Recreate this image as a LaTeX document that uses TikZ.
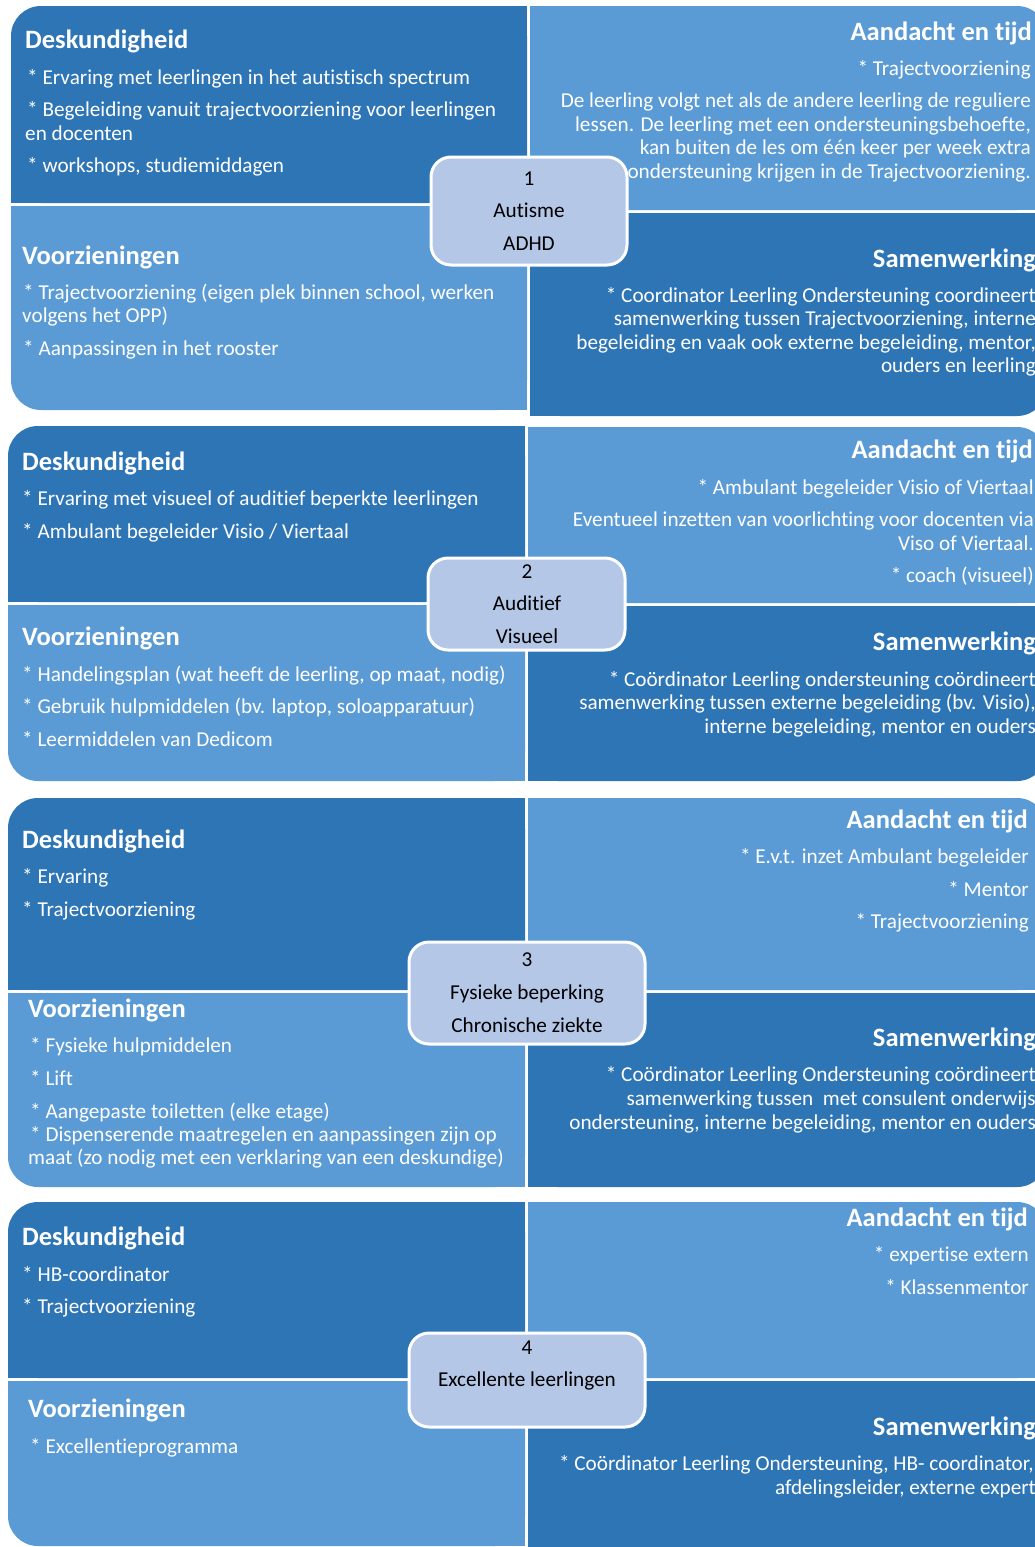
\documentclass[tikz,border=0pt]{standalone}
\usepackage{fontspec}
\setmainfont{Carlito}[Ligatures=NoCommon]
\definecolor{dk}{HTML}{2E75B6}
\definecolor{lt}{HTML}{5B9BD5}
\definecolor{cb}{HTML}{B4C7E7}
\tikzset{
  hd/.style={text=white,font=\fontsize{26.5}{31}\selectfont\bfseries,inner sep=0pt},
  hdL/.style={hd,anchor=base west},
  hdR/.style={hd,anchor=base east},
  bd/.style={text=white,font=\fontsize{21.2}{25}\selectfont,inner sep=0pt},
  bdL/.style={bd,anchor=base west},
  bdR/.style={bd,anchor=base east},
  ctr/.style={text=black,font=\fontsize{21.2}{25}\selectfont,inner sep=0pt,anchor=base},
  cbox/.style={fill=cb,draw=white,line width=3pt,rounded corners=20pt,inner sep=0pt},
}
% quadrant with one rounded corner
\newcommand\qrTL[5]{\fill[#1,rounded corners=30pt] (#2,#3) rectangle (#4,#5);
  \fill[#1] (#2+30,#3) rectangle (#4,#5); \fill[#1] (#2,#3+30) rectangle (#4,#5);}
\newcommand\qrBL[5]{\fill[#1,rounded corners=30pt] (#2,#3) rectangle (#4,#5);
  \fill[#1] (#2+30,#3) rectangle (#4,#5); \fill[#1] (#2,#3) rectangle (#4,#5-30);}
\newcommand\qrTR[5]{\fill[#1,rounded corners=30pt] (#2,#3) rectangle (#4,#5);
  \fill[#1] (#2,#3) rectangle (#4-30,#5); \fill[#1] (#2,#3+30) rectangle (#4,#5);}
\newcommand\qrBR[5]{\fill[#1,rounded corners=30pt] (#2,#3) rectangle (#4,#5);
  \fill[#1] (#2,#3) rectangle (#4-30,#5); \fill[#1] (#2,#3) rectangle (#4,#5-30);}
\begin{document}
\begin{tikzpicture}[x=1pt,y=-1pt]
\useasboundingbox (0,0) rectangle (1035,1547);
\clip (0,0) rectangle (1035,1547);
\fill[white] (0,0) rectangle (1035,1547);

% ---------- Block 1 ----------
\qrTL{dk}{11}{6}{527}{203}
\qrBL{lt}{11}{206}{527}{410}
\qrTR{lt}{530}{6}{1047}{210}
\qrBR{dk}{530}{213}{1047}{416}

\node[hdL] (a1h) at (25,48) {Deskundigheid};
\node[bdL] (a1a) at (27,84) {* Ervaring met leerlingen in het autistisch spectrum};
\node[bdL] (a1b) at (27,116) {* Begeleiding vanuit trajectvoorziening voor leerlingen};
\node[bdL] (a1c) at (25,140) {en docenten};
\node[bdL] (a1d) at (27,172) {* workshops, studiemiddagen};

\node[hdL] (b1h) at (22,264) {Voorzieningen};
\node[bdL] (b1a) at (23,299) {* Trajectvoorziening (eigen plek binnen school, werken};
\node[bdL] (b1b) at (22,322) {volgens het OPP)};
\node[bdL] (b1c) at (23,355) {* Aanpassingen in het rooster};

\node[hdR] (c1h) at (1032,40) {Aandacht en tijd};
\node[bdR] (c1a) at (1031,75) {* Trajectvoorziening};
\node[bdR] (c1b) at (1031,107) {De leerling volgt net als de andere leerling de reguliere};
\node[bdR] (c1c) at (1031,131) {lessen. De leerling met een ondersteuningsbehoefte,};
\node[bdR] (c1d) at (1031,154) {kan buiten de les om één keer per week extra};
\node[bdR] (c1e) at (1031,178) {ondersteuning krijgen in de Trajectvoorziening.};

\node[hdR] (d1h) at (1036,267) {Samenwerking};
\node[bdR] (d1a) at (1036,302) {* Coordinator Leerling Ondersteuning coordineert};
\node[bdR] (d1b) at (1036,325) {samenwerking tussen Trajectvoorziening, interne};
\node[bdR] (d1c) at (1036,349) {begeleiding en vaak ook externe begeleiding, mentor,};
\node[bdR] (d1d) at (1036,372) {ouders en leerling};

\node[cbox,minimum width=196pt,minimum height=108pt] (box1) at (529,211) {};
\node[ctr] (n1a) at (529,185) {1};
\node[ctr] (n1b) at (529,217) {Autisme};
\node[ctr] (n1c) at (529,250) {ADHD};

% ---------- Block 2 ----------
\qrTL{dk}{8}{426}{525}{602}
\qrBL{lt}{8}{605}{525}{781}
\qrTR{lt}{528}{427}{1047}{603}
\qrBR{dk}{528}{606}{1047}{781}

\node[hdL] (a2h) at (22,470) {Deskundigheid};
\node[bdL] (a2a) at (22,505) {* Ervaring met visueel of auditief beperkte leerlingen};
\node[bdL] (a2b) at (22,538) {* Ambulant begeleider Visio / Viertaal};

\node[hdL] (b2h) at (22,645) {Voorzieningen};
\node[bdL] (b2a) at (22,681) {* Handelingsplan (wat heeft de leerling, op maat, nodig)};
\node[bdL] (b2b) at (22,713) {* Gebruik hulpmiddelen (bv. laptop, soloapparatuur)};
\node[bdL] (b2c) at (22,746) {* Leermiddelen van Dedicom};

\node[hdR] (c2h) at (1033,458) {Aandacht en tijd};
\node[bdR] (c2a) at (1034,494) {* Ambulant begeleider Visio of Viertaal};
\node[bdR] (c2b) at (1034,526) {Eventueel inzetten van voorlichting voor docenten via};
\node[bdR] (c2c) at (1034,550) {Viso of Viertaal.};
\node[bdR] (c2d) at (1034,582) {* coach (visueel)};

\node[hdR] (d2h) at (1036,650) {Samenwerking};
\node[bdR] (d2a) at (1036,686) {* Coördinator Leerling ondersteuning coördineert};
\node[bdR] (d2b) at (1036,709) {samenwerking tussen externe begeleiding (bv. Visio),};
\node[bdR] (d2c) at (1036,733) {interne begeleiding, mentor en ouders};

\node[cbox,minimum width=197pt,minimum height=92pt] (box2) at (526.5,604) {};
\node[ctr] (n2a) at (527,578) {2};
\node[ctr] (n2b) at (527,610) {Auditief};
\node[ctr] (n2c) at (527,643) {Visueel};

% ---------- Block 3 ----------
\qrTL{dk}{8}{798}{525}{990}
\qrBL{lt}{8}{993}{525}{1187}
\qrTR{lt}{528}{798}{1047}{990}
\qrBR{dk}{528}{993}{1047}{1187}

\node[hdL] (a3h) at (22,848) {Deskundigheid};
\node[bdL] (a3a) at (22,883) {* Ervaring};
\node[bdL] (a3b) at (22,916) {* Trajectvoorziening};

\node[hdL] (b3h) at (28,1017) {Voorzieningen};
\node[bdL] (b3a) at (30,1052) {* Fysieke hulpmiddelen};
\node[bdL] (b3b) at (30,1085) {* Lift};
\node[bdL] (b3c) at (30,1118) {* Aangepaste toiletten (elke etage)};
\node[bdL] (b3d) at (30,1141) {* Dispenserende maatregelen en aanpassingen zijn op};
\node[bdL] (b3e) at (28,1164) {maat (zo nodig met een verklaring van een deskundige)};

\node[hdR] (c3h) at (1028,828) {Aandacht en tijd};
\node[bdR] (c3a) at (1029,863) {* E.v.t. inzet Ambulant begeleider};
\node[bdR] (c3b) at (1029,896) {* Mentor};
\node[bdR] (c3c) at (1029,928) {* Trajectvoorziening};

\node[hdR] (d3h) at (1036,1046) {Samenwerking};
\node[bdR] (d3a) at (1036,1081) {* Coördinator Leerling Ondersteuning coördineert};
\node[bdR] (d3b) at (1036,1105) {samenwerking tussen\ \ met consulent onderwijs};
\node[bdR] (d3c) at (1036,1129) {ondersteuning, interne begeleiding, mentor en ouders};

\node[cbox,minimum width=236pt,minimum height=102pt] (box3) at (527,993) {};
\node[ctr] (n3a) at (527,966) {3};
\node[ctr] (n3b) at (527,999) {Fysieke beperking};
\node[ctr] (n3c) at (527,1032) {Chronische ziekte};

% ---------- Block 4 ----------
\qrTL{dk}{8}{1202}{525}{1378}
\qrBL{lt}{8}{1381}{525}{1546}
\qrTR{lt}{528}{1202}{1047}{1378}
\qrBR{dk}{528}{1381}{1047}{1570}

\node[hdL] (a4h) at (22,1245) {Deskundigheid};
\node[bdL] (a4a) at (22,1281) {* HB-coordinator};
\node[bdL] (a4b) at (22,1313) {* Trajectvoorziening};

\node[hdL] (b4h) at (28,1417) {Voorzieningen};
\node[bdL] (b4a) at (30,1453) {* Excellentieprogramma};

\node[hdR] (c4h) at (1028,1226) {Aandacht en tijd};
\node[bdR] (c4a) at (1029,1261) {* expertise extern};
\node[bdR] (c4b) at (1029,1294) {* Klassenmentor};

\node[hdR] (d4h) at (1036,1435) {Samenwerking};
\node[bdR] (d4a) at (1034,1470) {* Coördinator Leerling Ondersteuning, HB- coordinator,};
\node[bdR] (d4b) at (1036,1494) {afdelingsleider, externe expert};

\node[cbox,minimum width=236pt,minimum height=94pt] (box4) at (527,1380) {};
\node[ctr] (n4a) at (527,1354) {4};
\node[ctr] (n4b) at (527,1386) {Excellente leerlingen};
\end{tikzpicture}
\end{document}
